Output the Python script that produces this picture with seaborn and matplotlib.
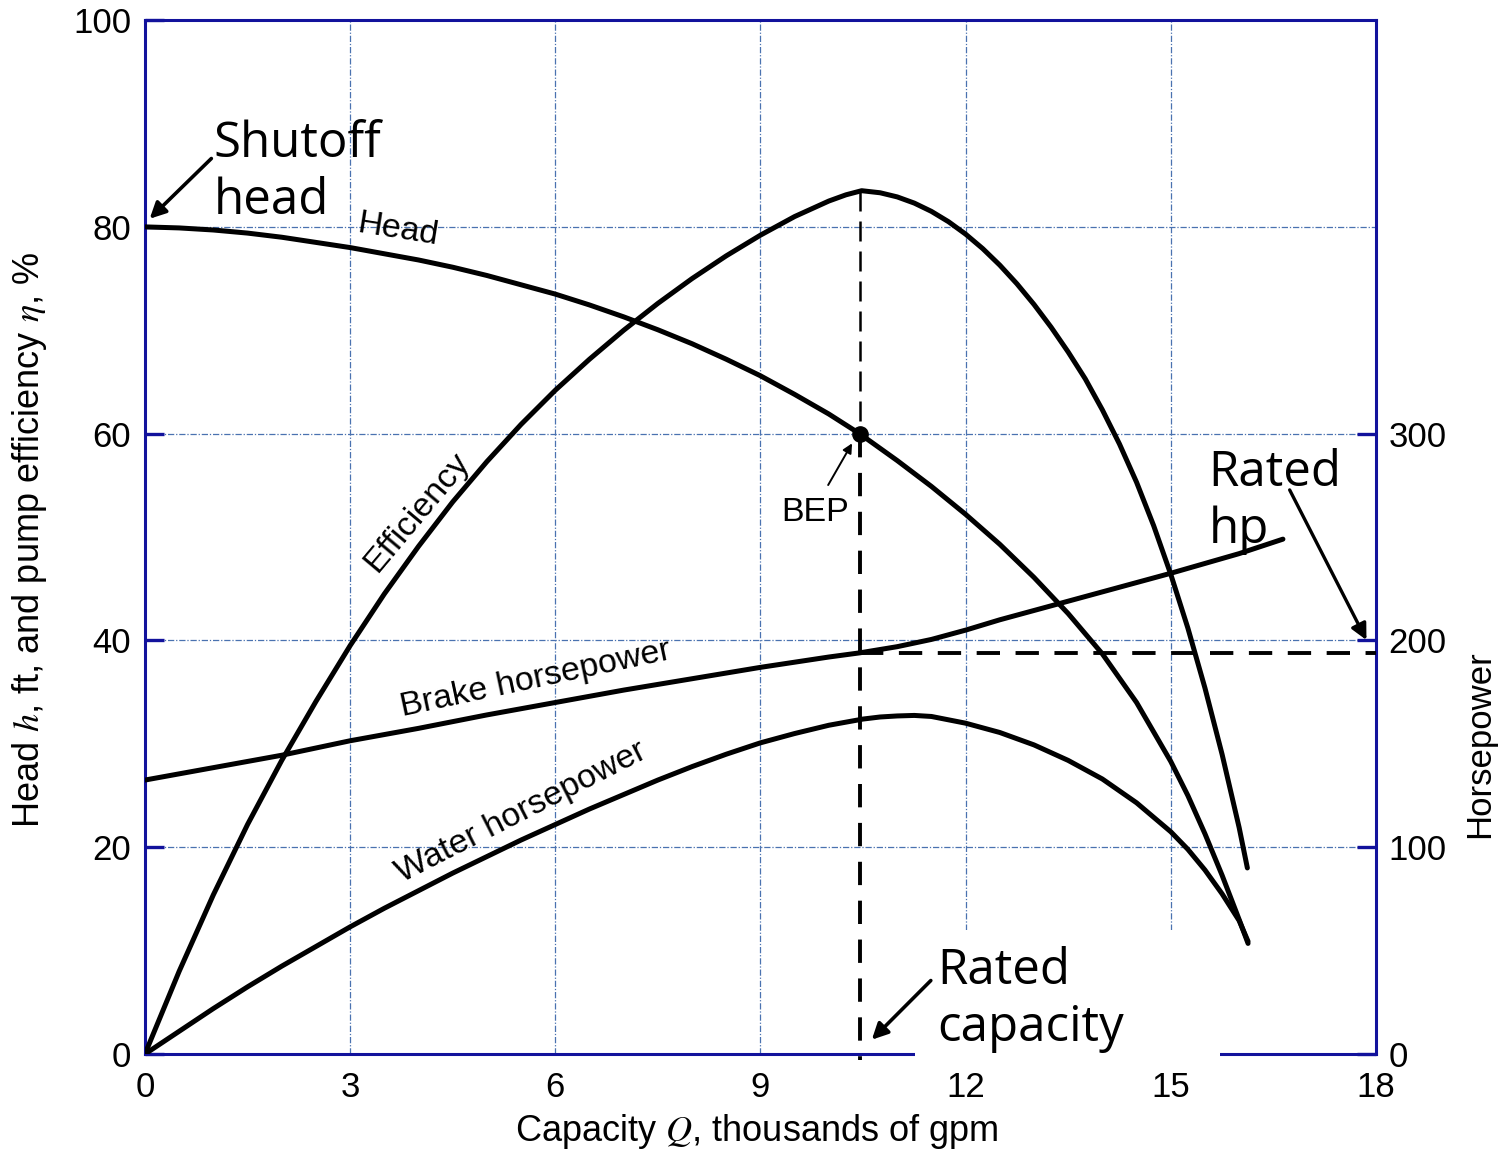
import matplotlib
matplotlib.use("Agg")
import matplotlib.pyplot as plt
from matplotlib.patches import Rectangle
import seaborn as sns

# ---- pump characteristic data (capacity in thousands of gpm) ----
head_q = [0, 0.5, 1, 1.5, 2, 2.5, 3, 3.5, 4, 4.5, 5, 5.5, 6, 6.5, 7, 7.5, 8, 8.5,
          9, 9.5, 10, 10.45, 11, 11.5, 12, 12.5, 13, 13.5, 14, 14.5, 15, 15.25,
          15.5, 15.75, 16, 16.13]
head_ft = [80.0, 79.9, 79.7, 79.4, 79.0, 78.5, 78.0, 77.4, 76.8, 76.1, 75.3, 74.4,
           73.5, 72.45, 71.3, 70.05, 68.7, 67.2, 65.6, 63.8, 61.9, 60.0, 57.4,
           54.9, 52.2, 49.3, 46.1, 42.6, 38.7, 34.0, 28.3, 25.0, 21.3, 17.3, 13.0,
           10.7]

eff_q = [0, 0.5, 1, 1.5, 2, 2.5, 3, 3.5, 4, 4.5, 5, 5.5, 6, 6.5, 7, 7.5, 8, 8.5,
         9, 9.5, 10, 10.25, 10.48, 10.75, 11, 11.25, 11.5, 11.75, 12, 12.25, 12.5,
         12.75, 13, 13.25, 13.5, 13.75, 14, 14.25, 14.5, 14.75, 15, 15.25, 15.5,
         15.75, 16, 16.12]
eff_pct = [0, 8.0, 15.4, 22.2, 28.4, 34.1, 39.5, 44.5, 49.1, 53.4, 57.3, 60.9,
           64.2, 67.2, 70.0, 72.6, 75.0, 77.2, 79.2, 81.0, 82.5, 83.1, 83.5, 83.3,
           82.9, 82.3, 81.5, 80.5, 79.3, 77.9, 76.3, 74.5, 72.5, 70.3, 67.9, 65.3,
           62.3, 59.0, 55.3, 51.1, 46.4, 41.2, 35.4, 29.0, 21.9, 18.0]

bhp_q = [0, 1, 2, 3, 4, 5, 6, 7, 8, 9, 10, 10.45, 11, 11.5, 12, 12.5, 13, 14, 15,
         16, 16.64]
bhp_hp = [132.5, 138.5, 144.5, 151.5, 157.5, 164, 170, 176, 181.5, 187, 192, 194,
          197, 200.5, 205, 210, 214.5, 223.5, 232.5, 242, 249]

whp_q = [0, 0.5, 1, 1.5, 2, 2.5, 3, 3.5, 4, 4.5, 5, 5.5, 6, 6.5, 7, 7.5, 8, 8.5,
         9, 9.5, 10, 10.5, 10.75, 11, 11.25, 11.5, 12, 12.5, 13, 13.5, 14, 14.5,
         15, 15.25, 15.5, 15.75, 16, 16.13]
whp_hp = [0, 11, 22, 32.5, 42.5, 52, 61.5, 70.5, 79, 87.5, 95.5, 103.5, 111,
          118.5, 125.5, 132.5, 139, 145, 150.5, 155, 159, 162, 163, 163.5, 163.75,
          163.25, 160, 155.5, 149.5, 142, 133, 121.5, 107.5, 99, 89, 77.5, 64.5,
          54.5]

bep_q = 10.45       # rated capacity at best efficiency point
bep_head = 60.0
bep_eff = 83.5
rated_hp = 194

x_ticks = [0, 3, 6, 9, 12, 15, 18]
y_ticks = [0, 20, 40, 60, 80, 100]
hp_ticks = [0, 100, 200, 300]

BLUE = "#12129c"
GRID = "#4a72b0"

sns.set_style("white")
plt.rcParams["font.family"] = ["Liberation Sans", "DejaVu Sans"]
plt.rcParams["mathtext.fontset"] = "stix"
plt.rcParams["text.color"] = "black"
plt.rcParams["axes.labelcolor"] = "black"

fig = plt.figure(figsize=(14.99, 11.55), dpi=100)
ax = fig.add_axes([0.0967, 0.0874, 0.8212, 0.8952])
ax2 = ax.twinx()

ax.set_xlim(0, 18)
ax.set_ylim(0, 100)
ax2.set_ylim(0, 500)

# grid
for q in x_ticks[1:-1]:
    ax.axvline(q, color=GRID, lw=0.9, ls=(0, (5, 1.5, 1, 1.5)), zorder=0.5)
for v in y_ticks[1:-1]:
    ax.axhline(v, color=GRID, lw=0.9, ls=(0, (5, 1.5, 1, 1.5)), zorder=0.5)

# curves
LW = 3.6
line_kw = dict(color="black", lw=LW, sort=False, estimator=None, zorder=3)
sns.lineplot(x=head_q, y=head_ft, ax=ax, **line_kw)
sns.lineplot(x=eff_q, y=eff_pct, ax=ax, **line_kw)
sns.lineplot(x=bhp_q, y=bhp_hp, ax=ax2, **line_kw)
sns.lineplot(x=whp_q, y=whp_hp, ax=ax2, **line_kw)

# rated capacity / rated hp guide lines
ax.plot([bep_q, bep_q], [bep_eff, bep_head], color="black", lw=1.8,
        ls=(0, (8, 4)), zorder=2)
ax.plot([bep_q, bep_q], [bep_head, -0.6], color="black", lw=2.8,
        ls=(0, (6, 4)), zorder=2, clip_on=False)
ax2.plot([bep_q, 18], [rated_hp, rated_hp], color="black", lw=2.8,
         ls=(0, (6, 4)), zorder=2)
ax.plot([bep_q], [bep_head], "o", color="black", ms=11, zorder=4)

# axes styling
for s in ax.spines.values():
    s.set_color(BLUE)
    s.set_linewidth(2.2)
for s in ax2.spines.values():
    s.set_visible(False)

ax.set_xticks(x_ticks)
ax.set_yticks(y_ticks)
ax.set_xticklabels([str(t) for t in x_ticks])
ax.set_yticklabels([str(t) for t in y_ticks])
ax.tick_params(axis="both", direction="in", length=14, width=2.4, color=BLUE,
               labelcolor="black", labelsize=25, top=False, right=False)
ax.tick_params(axis="y", pad=10)
ax.tick_params(axis="x", pad=12)
ax2.set_yticks(hp_ticks)
ax2.set_yticklabels([str(t) for t in hp_ticks])
ax2.tick_params(axis="y", direction="in", length=14, width=2.4, color=BLUE,
                labelcolor="black", labelsize=25, pad=9)

ax.set_xlabel("Capacity $Q$, thousands of gpm", fontsize=26)
ax.set_ylabel("Head $h$, ft, and pump efficiency $\\eta$, %", fontsize=26)
ax2.set_ylabel("Horsepower", fontsize=25)
ax.xaxis.set_label_coords(0.497, -0.056)
ax.yaxis.set_label_coords(-0.078, 0.497)
ax2.yaxis.set_label_coords(1.071, 0.30)

# curve labels
lbl = dict(fontsize=24.5, color="black", ha="center", va="center",
           rotation_mode="anchor")
ax.text(3.70, 79.7, "Head", rotation=-9, **lbl)
ax.text(3.98, 52.4, "Efficiency", rotation=50, **lbl)
ax.text(5.72, 36.3, "Brake horsepower", rotation=12, **lbl)
ax.text(5.50, 23.4, "Water horsepower", rotation=27, **lbl)
ax.text(9.80, 52.4, "BEP", **lbl)
ax.annotate("", xy=(10.36, 59.3), xytext=(9.97, 54.8),
            arrowprops=dict(arrowstyle="-|>", color="black", lw=1.4,
                            mutation_scale=14))

# callouts
note = dict(fontsize=35.5, color="black", family=["Open Sans", "DejaVu Sans"],
            ha="left", va="top", linespacing=1.2)
ax.text(1.0, 90.4, "Shutoff\nhead", **note)
ax.annotate("", xy=(0.04, 80.6), xytext=(1.0, 86.8),
            arrowprops=dict(arrowstyle="-|>", color="black", lw=2.6,
                            mutation_scale=24))

ax2.text(15.55, 58.6 * 5, "Rated\nhp", zorder=6, **note)
ax2.annotate("", xy=(17.88, 39.8 * 5), xytext=(16.72, 54.8 * 5),
             arrowprops=dict(arrowstyle="-|>", color="black", lw=2.4,
                             mutation_scale=24), zorder=6)

ax2.add_patch(Rectangle((11.26, -0.8), 4.46, 12.8, transform=ax.transData,
                        facecolor="white", edgecolor="none", clip_on=False,
                        zorder=5))
ax2.text(11.58, 10.4 * 5, "Rated\ncapacity", zorder=6, **note)
ax2.annotate("", xy=(10.6, 1.2 * 5), xytext=(11.52, 7.3 * 5),
             arrowprops=dict(arrowstyle="-|>", color="black", lw=2.6,
                             mutation_scale=24), zorder=6)

fig.savefig("out.png", dpi=100, facecolor="white")
